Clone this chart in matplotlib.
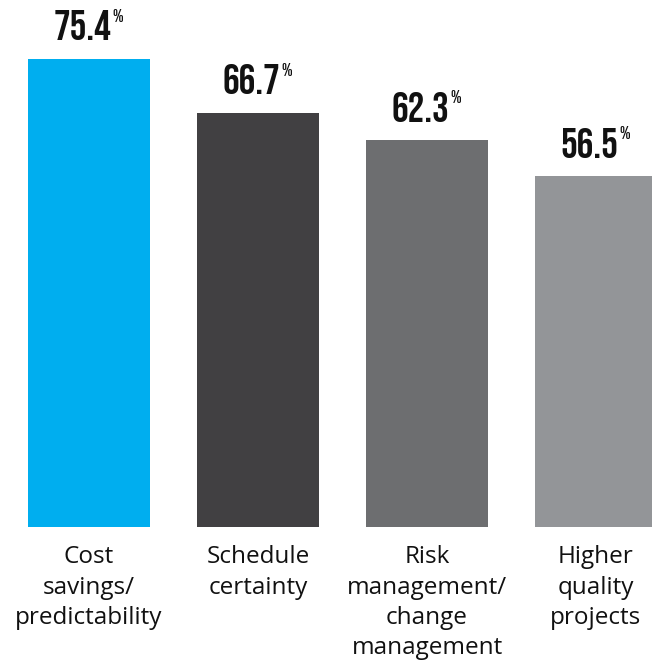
import matplotlib
matplotlib.use("Agg")
import matplotlib.pyplot as plt
from matplotlib import font_manager

categories = ["Cost\nsavings/\npredictability", "Schedule\ncertainty",
              "Risk\nmanagement/\nchange\nmanagement", "Higher\nquality\nprojects"]
values = [75.4, 66.7, 62.3, 56.5]
colors = ["#00AEEF", "#414042", "#6D6E70", "#939598"]

names = {f.name for f in font_manager.fontManager.ttflist}


def pick(prefs):
    for p in prefs:
        if p in names:
            return p
    return "DejaVu Sans"


num_font = pick(["Bebas Neue", "Oswald", "Antonio", "League Gothic", "Fjalla One",
                 "Roboto Condensed", "Liberation Sans Narrow"])
lab_font = pick(["Open Sans", "Noto Sans"])

fig = plt.figure(figsize=(6.52, 6.62), dpi=100)
ax = fig.add_axes([0, 0, 1, 1])
ax.set_xlim(-89 / 169, (652 - 89) / 169)
ax.set_ylim(-135 / 6.207, (662 - 135) / 6.207)
ax.axis("off")

x = list(range(len(values)))
ax.bar(x, values, width=122 / 169, color=colors)

fig.canvas.draw()
renderer = fig.canvas.get_renderer()
nfs = 30
for xi, v in zip(x, values):
    t = ax.annotate(f"{v:.1f}", xy=(xi, v), xytext=(-5, 13.5), textcoords="offset points",
                    ha="center", va="baseline", fontsize=nfs, fontweight="bold",
                    family=num_font, color="#111111")
    bb = t.get_window_extent(renderer)
    ax.annotate("%", xy=(xi, v), xytext=(-5 + bb.width / 2 * 72 / 100 + 0.8, 13.5 + nfs * 0.7 + 1.5),
                textcoords="offset points", ha="left", va="top", fontsize=13,
                fontweight="bold", family=num_font, color="#111111")

for xi, lab in zip(x, categories):
    ax.annotate(lab, xy=(xi, 0), xytext=(0, -13), textcoords="offset points",
                ha="center", va="top", fontsize=17.5, family=lab_font,
                color="#111111", linespacing=1.36)

fig.savefig("out.png", dpi=100)
